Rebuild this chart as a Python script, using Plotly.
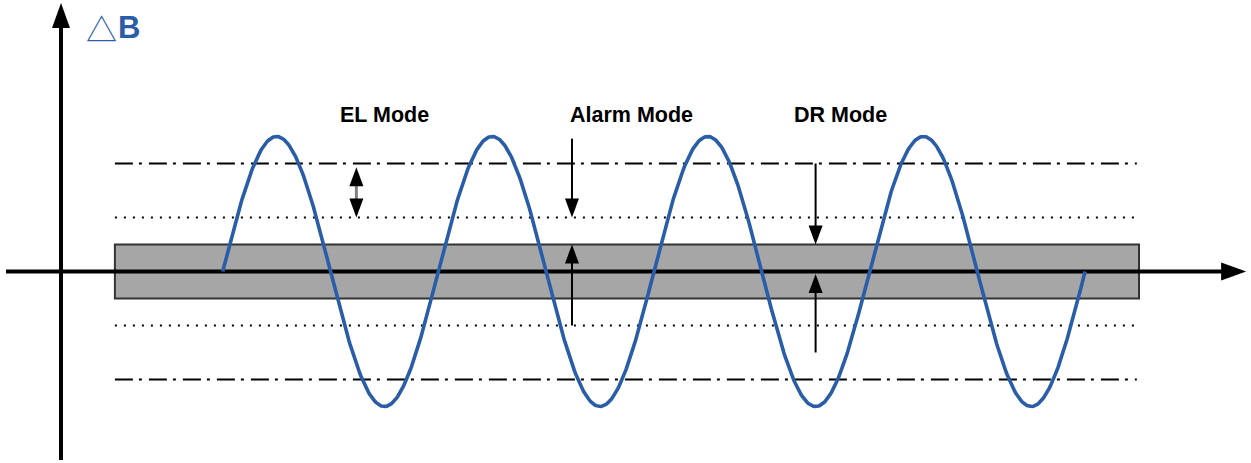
import numpy as np
import plotly.graph_objects as go

# ---------------- data (schematic units: x in wave periods, y in ΔB units) ----------------
wave_start = 0.75          # wave starts on the axis, going up
wave_cycles = 4            # number of full oscillations
wave_amplitude = 2.5       # peak ΔB
dashdot_levels = [2.0, -2.0]   # outer thresholds
dotted_levels = [1.0, -1.0]    # inner thresholds
band_levels = [-0.5, 0.5]      # grey dead band
band_extent = [0.25, 5.0]      # x extent of band and threshold lines

mode_labels = ["EL Mode", "Alarm Mode", "DR Mode"]
mode_label_x = [1.5, 2.645, 3.615]
mode_label_y = 2.9

# single arrows: tail -> tip
arrow_x = [2.37, 2.37, 3.5, 3.5]
arrow_tail = [2.46, -1.0, 2.0, -1.5]
arrow_tip = [1.0, 0.5, 0.5, 0.0]
# EL double arrow
el_arrow_x = 1.37
el_arrow_ends = [1.93, 1.0]

axis_x_extent = [-0.255, 5.497]
axis_y_extent = [-3.49, 4.97]

# ---------------- geometry helpers ----------------
W, H = 1251, 463
PX_X = 215.6   # pixels per x unit
PX_Y = 54.0    # pixels per y unit
ORIGIN_PX_X = 61
ORIGIN_PX_Y = 271.5
x_range = [-ORIGIN_PX_X / PX_X, (W - ORIGIN_PX_X) / PX_X]
y_range = [-(H - ORIGIN_PX_Y) / PX_Y, ORIGIN_PX_Y / PX_Y]

BLUE = "#2a5da8"
shapes = []


def vline_head(x, tip, direction, length_px, width_px, color="black"):
    base = tip - direction * length_px / PX_Y
    hw = width_px / 2 / PX_X
    return dict(type="path", xref="x", yref="y",
                path=f"M {x - hw},{base} L {x + hw},{base} L {x},{tip} Z",
                fillcolor=color, line=dict(width=0), layer="above")


def hline_head(y, tip, length_px, width_px, color="black"):
    base = tip - length_px / PX_X
    hh = width_px / 2 / PX_Y
    return dict(type="path", xref="x", yref="y",
                path=f"M {base},{y - hh} L {base},{y + hh} L {tip},{y} Z",
                fillcolor=color, line=dict(width=0), layer="below")


# grey band
shapes.append(dict(type="rect", xref="x", yref="y",
                   x0=band_extent[0], x1=band_extent[1],
                   y0=band_levels[0], y1=band_levels[1],
                   fillcolor="#a6a6a6", line=dict(color="#333333", width=2),
                   layer="below"))

# threshold lines
for lv in dotted_levels:
    shapes.append(dict(type="line", xref="x", yref="y",
                       x0=band_extent[0], x1=band_extent[1], y0=lv, y1=lv,
                       line=dict(color="black", width=2, dash="2px,7px"),
                       layer="below"))
for lv in dashdot_levels:
    shapes.append(dict(type="line", xref="x", yref="y",
                       x0=band_extent[0], x1=band_extent[1] - 0.01, y0=lv, y1=lv,
                       line=dict(color="black", width=2.2, dash="18px,6px,3px,7px"),
                       layer="below"))

# axes
AX_HEAD_L, AX_HEAD_W = 25, 18
shapes.append(dict(type="line", xref="x", yref="y",
                   x0=axis_x_extent[0], x1=axis_x_extent[1] - (AX_HEAD_L - 2) / PX_X,
                   y0=0, y1=0, line=dict(color="black", width=4), layer="below"))
shapes.append(hline_head(0, axis_x_extent[1], AX_HEAD_L, AX_HEAD_W))
shapes.append(dict(type="line", xref="x", yref="y",
                   x0=0, x1=0, y0=axis_y_extent[0],
                   y1=axis_y_extent[1] - (AX_HEAD_L - 2) / PX_Y,
                   line=dict(color="black", width=4), layer="below"))
shapes.append(dict(vline_head(0, axis_y_extent[1], 1, AX_HEAD_L, AX_HEAD_W), layer="below"))

# mode arrows
HEAD_L, HEAD_W = 19, 14
for x, tail, tip in zip(arrow_x, arrow_tail, arrow_tip):
    d = 1 if tip > tail else -1
    tip_adj = tip - d * (2.5 / PX_Y) if tip == 0.0 else tip
    base = tip_adj - d * (HEAD_L - 1) / PX_Y
    shapes.append(dict(type="line", xref="x", yref="y", x0=x, x1=x, y0=tail, y1=base,
                       line=dict(color="black", width=2), layer="above"))
    shapes.append(vline_head(x, tip_adj, d, HEAD_L, HEAD_W))

# EL double arrow
top, bot = el_arrow_ends
shapes.append(dict(type="line", xref="x", yref="y", x0=el_arrow_x, x1=el_arrow_x,
                   y0=top - (HEAD_L - 1) / PX_Y, y1=bot + (HEAD_L - 1) / PX_Y,
                   line=dict(color="#808080", width=3), layer="above"))
shapes.append(vline_head(el_arrow_x, top, 1, HEAD_L, HEAD_W))
shapes.append(vline_head(el_arrow_x, bot, -1, HEAD_L, HEAD_W))

# ---------------- figure ----------------
wave_x = np.linspace(wave_start, wave_start + wave_cycles, 800)
wave_y = wave_amplitude * np.sin(2 * np.pi * (wave_x - wave_start))

fig = go.Figure()
fig.add_trace(go.Scatter(x=wave_x, y=wave_y, mode="lines",
                         line=dict(color=BLUE, width=3.6),
                         hoverinfo="skip", showlegend=False))

annotations = []
for label, lx in zip(mode_labels, mode_label_x):
    annotations.append(dict(x=lx, y=mode_label_y, xref="x", yref="y", text=f"<b>{label}</b>",
                            showarrow=False, xanchor="center", yanchor="middle",
                            font=dict(family="Liberation Sans, Arial", size=21.5, color="black")))

# ΔB label
annotations.append(dict(x=(87 - ORIGIN_PX_X) / PX_X - 0.012, y=(ORIGIN_PX_Y - 27) / PX_Y,
                        xref="x", yref="y", text="△", showarrow=False,
                        xanchor="left", yanchor="middle",
                        font=dict(family="Noto Sans CJK SC, DejaVu Sans", size=31, color=BLUE)))
annotations.append(dict(x=(116 - ORIGIN_PX_X) / PX_X, y=(ORIGIN_PX_Y - 27.5) / PX_Y,
                        xref="x", yref="y", text="<b>B</b>", showarrow=False,
                        xanchor="left", yanchor="middle",
                        font=dict(family="Liberation Sans, Arial", size=31, color=BLUE)))

fig.update_layout(
    width=W, height=H, autosize=False,
    margin=dict(l=0, r=0, t=0, b=0, pad=0),
    paper_bgcolor="white", plot_bgcolor="white",
    xaxis=dict(range=x_range, visible=False, fixedrange=True),
    yaxis=dict(range=y_range, visible=False, fixedrange=True),
    shapes=shapes, annotations=annotations, showlegend=False,
)

fig.write_html("out.html", config={"displayModeBar": False},
               post_script="document.body.style.margin='0';document.body.style.padding='0';"
                           "document.body.style.overflow='hidden';")
